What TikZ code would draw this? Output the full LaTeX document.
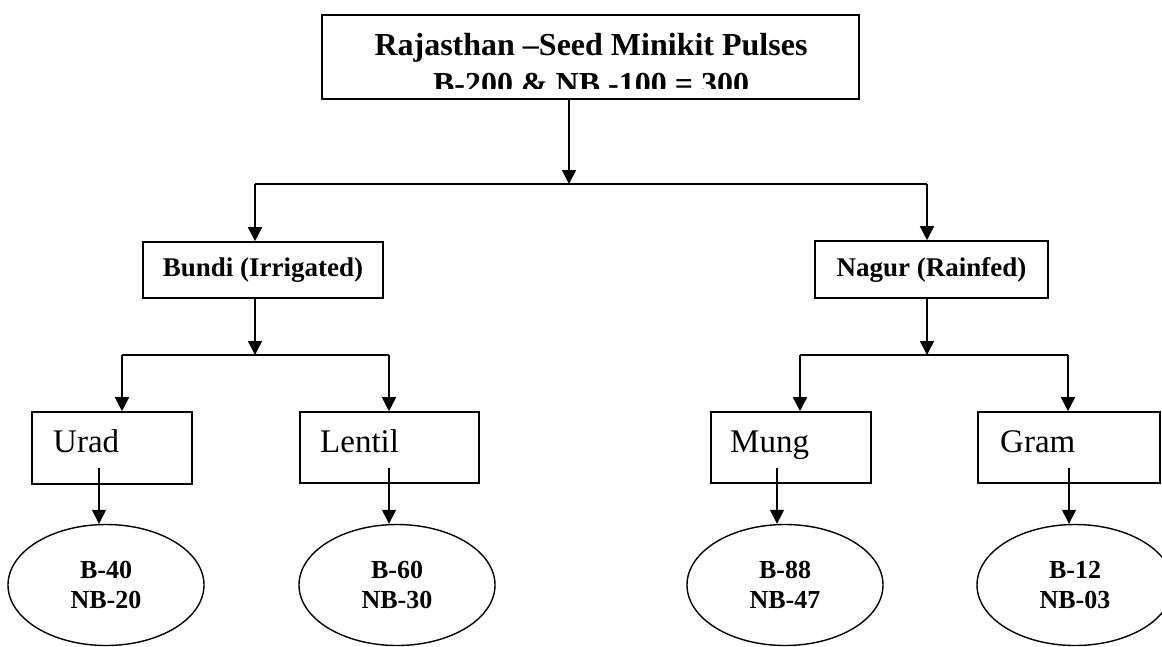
\documentclass[tikz,border=0pt]{standalone}
\usepackage{fontspec}
\setmainfont{Liberation Serif}
\usetikzlibrary{arrows.meta,shapes.geometric}
\begin{document}
\begin{tikzpicture}[x=1pt,y=-1pt,
  conn/.style={line width=1.6pt},
  arr/.style={conn,-{Triangle[width=14pt,length=14pt]}},
  box/.style={draw,line width=1.6pt,rectangle,inner sep=0pt},
  oval/.style={draw,line width=1.4pt,ellipse,inner sep=0pt,minimum width=196pt,minimum height=121pt,
    align=center,font=\fontsize{26}{30}\selectfont\bfseries},
  croptext/.style={anchor=base west,inner sep=0pt,font=\fontsize{33}{38}\selectfont},
  regtext/.style={inner sep=0pt,font=\fontsize{27}{30}\selectfont\bfseries},
  toptext/.style={anchor=base,inner sep=0pt,font=\fontsize{32}{38}\selectfont\bfseries}
]
\useasboundingbox (0,0) rectangle (1162,646);
% top box
\node[box,minimum width=537pt,minimum height=84pt] (top) at (590.5,57) {};
\node[toptext] (topl1) at (591,55) {Rajasthan –Seed Minikit Pulses};
\begin{scope}
  \clip (330,60) rectangle (850,88);
  \node[toptext] (topl2) at (591,94) {B-200 \& NB -100 = 300};
\end{scope}
% region boxes
\node[box,minimum width=240pt,minimum height=56pt,regtext] (bundi) at (263,270) {Bundi (Irrigated)};
\node[box,minimum width=233pt,minimum height=57pt,regtext] (nagur) at (931.5,269.5) {Nagur (Rainfed)};
% crop boxes
\node[box,minimum width=160pt,minimum height=72pt] (urad) at (112,448) {};
\node[box,minimum width=179pt,minimum height=71pt] (lentil) at (389.5,447.5) {};
\node[box,minimum width=160pt,minimum height=71pt] (mung) at (791,447.5) {};
\node[box,minimum width=182pt,minimum height=71pt] (gram) at (1069,447.5) {};
\node[croptext] (uradt) at (53,452) {Urad};
\node[croptext] (lentilt) at (320,452) {Lentil};
\node[croptext] (mungt) at (730,452) {Mung};
\node[croptext] (gramt) at (1000,452) {Gram};
% ovals
\node[oval] (o1) at (106,585) {B-40\\NB-20};
\node[oval] (o2) at (397,585) {B-60\\NB-30};
\node[oval] (o3) at (785,585) {B-88\\NB-47};
\node[oval] (o4) at (1075,585) {B-12\\NB-03};
% junctions
\coordinate (j0) at (569,184);
\coordinate (jb) at (255,355);
\coordinate (jn) at (927,355);
\coordinate (s1) at (99,468);
\coordinate (s2) at (389,468);
\coordinate (s3) at (777,468);
\coordinate (s4) at (1069,468);
% connectors
\draw[arr] (top.south -| j0) -- (j0);
\draw[conn] (255,184) -- (j0) -- (927,184);
\draw[arr] (255,184) -- (bundi.north -| 255,0);
\draw[arr] (927,184) -- (nagur.north -| 927,0);
\draw[arr] (bundi.south -| jb) -- (jb);
\draw[arr] (nagur.south -| jn) -- (jn);
\draw[conn] (122,355) -- (389,355);
\draw[conn] (800,355) -- (1068,355);
\draw[arr] (122,355) -- (urad.north -| 122,0);
\draw[arr] (389,355) -- (lentil.north -| 389,0);
\draw[arr] (800,355) -- (mung.north -| 800,0);
\draw[arr] (1068,355) -- (gram.north -| 1068,0);
\draw[arr] (s1) -- (o1.north -| s1);
\draw[arr] (s2) -- (o2.north -| s2);
\draw[arr] (s3) -- (o3.north -| s3);
\draw[arr] (s4) -- (o4.north -| s4);
\end{tikzpicture}
\end{document}
